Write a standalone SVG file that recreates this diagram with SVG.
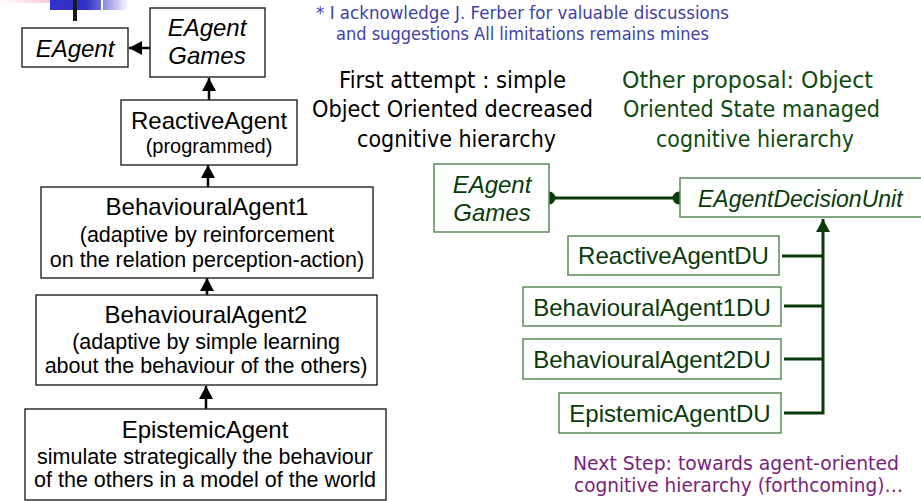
<svg xmlns="http://www.w3.org/2000/svg" width="921" height="501" viewBox="0 0 921 501">
<defs>
  <linearGradient id="pink" x1="0" y1="0" x2="1" y2="0">
    <stop offset="0" stop-color="#ffffff"/>
    <stop offset="1" stop-color="#f4b8c8"/>
  </linearGradient>
  <linearGradient id="blue1" x1="0" y1="0" x2="1" y2="0">
    <stop offset="0" stop-color="#3232c8"/>
    <stop offset="0.7" stop-color="#3030c8"/>
    <stop offset="1" stop-color="#6a6ad8"/>
  </linearGradient>
  <linearGradient id="blue2" x1="0" y1="0" x2="1" y2="0">
    <stop offset="0" stop-color="#8888e0"/>
    <stop offset="1" stop-color="#ffffff"/>
  </linearGradient>
  <marker id="ah" markerUnits="userSpaceOnUse" markerWidth="16" markerHeight="16" refX="13" refY="7" orient="auto">
    <path d="M0,0 L13,7 L0,14 z" fill="#000"/>
  </marker>
  <marker id="ahg" markerUnits="userSpaceOnUse" markerWidth="16" markerHeight="16" refX="13" refY="7" orient="auto">
    <path d="M0,0 L13,7 L0,14 z" fill="#0a3a0a"/>
  </marker>
</defs>
<style>
  .box { fill: #fff; stroke: #222; stroke-width: 1.4; }
  .gbox { fill: #fff; stroke: #5a8a5a; stroke-width: 1.5; }
  .t { font-family: "Liberation Sans", Arial, sans-serif; fill: #000; text-anchor: middle; }
  .title { font-size: 24px; }
  .desc { font-size: 21.5px; }
  .it { font-style: italic; font-size: 24px; }
  .g { fill: #0a3a0a; }
  .tah { font-family: "DejaVu Sans", Verdana, sans-serif; }
  .conn { stroke: #000; stroke-width: 2.5; fill: none; }
  .gconn { stroke: #0a3a0a; stroke-width: 3; fill: none; }
</style>

<!-- decoration -->
<rect x="0" y="0" width="65" height="3" fill="url(#pink)"/>
<rect x="50" y="0" width="51" height="10" fill="url(#blue1)"/>
<rect x="103" y="0" width="26" height="10" fill="url(#blue2)"/>
<rect x="73" y="0" width="4" height="21" fill="#1a1a1a"/>

<!-- headings -->
<g id="ack" class="tah" fill="#3f3fa8" font-size="17">
  <text x="316" y="19" textLength="413" lengthAdjust="spacingAndGlyphs">* I acknowledge J. Ferber for valuable discussions</text>
  <text x="336" y="40" textLength="373" lengthAdjust="spacingAndGlyphs">and suggestions All limitations remains mines</text>
</g>
<g id="title-left" class="tah" fill="#000" font-size="23">
  <text x="339" y="88" textLength="227" lengthAdjust="spacingAndGlyphs">First attempt : simple</text>
  <text x="312" y="117" textLength="281" lengthAdjust="spacingAndGlyphs">Object Oriented decreased</text>
  <text x="357" y="147" textLength="199" lengthAdjust="spacingAndGlyphs">cognitive hierarchy</text>
</g>
<g id="title-right" class="tah" fill="#0f4a0f" font-size="23">
  <text x="622" y="88" textLength="251" lengthAdjust="spacingAndGlyphs">Other proposal: Object</text>
  <text x="623" y="117" textLength="257" lengthAdjust="spacingAndGlyphs">Oriented State managed</text>
  <text x="656" y="147" textLength="198" lengthAdjust="spacingAndGlyphs">cognitive hierarchy</text>
</g>
<g id="next-step" class="tah" fill="#7a1e7a" font-size="19.5">
  <text x="573" y="470" textLength="326" lengthAdjust="spacingAndGlyphs">Next Step: towards agent-oriented</text>
  <text x="574" y="492" textLength="329" lengthAdjust="spacingAndGlyphs">cognitive hierarchy (forthcoming)…</text>
</g>

<!-- connectors -->
<g id="connectors">
  <line class="conn" x1="150" y1="48" x2="129" y2="48" marker-end="url(#ah)"/>
  <line class="conn" x1="209" y1="100" x2="209" y2="78" marker-end="url(#ah)"/>
  <line class="conn" x1="208" y1="187" x2="208" y2="165" marker-end="url(#ah)"/>
  <line class="conn" x1="207" y1="295" x2="207" y2="278" marker-end="url(#ah)"/>
  <line class="conn" x1="206" y1="409" x2="206" y2="386" marker-end="url(#ah)"/>

  <line class="gconn" x1="549" y1="198" x2="679" y2="198"/>
  <circle cx="549" cy="198" r="6.5" fill="#0a3a0a"/>
  <circle cx="679" cy="198" r="6.5" fill="#0a3a0a"/>
  <polyline class="gconn" points="782,256 823,256"/>
  <polyline class="gconn" points="784,306 823,306"/>
  <polyline class="gconn" points="784,359 823,359"/>
  <polyline class="gconn" points="784,413 823,413 823,219" marker-end="url(#ahg)"/>
</g>

<!-- left nodes -->
<g id="eagent">
  <rect class="box" x="22" y="28" width="106" height="39"/>
  <text class="t it" x="75" y="57">EAgent</text>
</g>
<g id="eagent-games">
  <rect class="box" x="150" y="8" width="115" height="69"/>
  <text class="t it" x="207" y="36">EAgent</text>
  <text class="t it" x="207" y="64">Games</text>
</g>
<g id="reactive">
  <rect class="box" x="121" y="100" width="176" height="65"/>
  <text class="t title" x="209" y="129">ReactiveAgent</text>
  <text class="t" font-size="20" x="209" y="153">(programmed)</text>
</g>
<g id="ba1">
  <rect class="box" x="41" y="187" width="332" height="91"/>
  <text class="t title" x="207" y="215">BehaviouralAgent1</text>
  <text class="t desc" x="207" y="242">(adaptive by reinforcement</text>
  <text class="t desc" x="207" y="267">on the relation perception-action)</text>
</g>
<g id="ba2">
  <rect class="box" x="36" y="295" width="341" height="90"/>
  <text class="t title" x="206" y="323">BehaviouralAgent2</text>
  <text class="t desc" x="206" y="349">(adaptive by simple learning</text>
  <text class="t desc" x="206" y="373">about the behaviour of the others)</text>
</g>
<g id="epistemic">
  <rect class="box" x="25" y="409" width="361" height="91"/>
  <text class="t title" x="205" y="438">EpistemicAgent</text>
  <text class="t desc" x="205" y="464">simulate strategically the behaviour</text>
  <text class="t desc" x="205" y="487">of the others in a model of the world</text>
</g>

<!-- right nodes -->
<g id="g-eagent-games">
  <rect class="gbox" x="434" y="164" width="115" height="68"/>
  <text class="t it g" x="492" y="193">EAgent</text>
  <text class="t it g" x="492" y="221">Games</text>
</g>
<g id="decision-unit">
  <rect class="gbox" x="680" y="178" width="260" height="39"/>
  <text class="t g" font-style="italic" font-size="23" x="698" y="207" style="text-anchor:start">EAgentDecisionUnit</text>
</g>
<g id="reactive-du">
  <rect class="gbox" x="568" y="236" width="211" height="39"/>
  <text class="t title g" x="673.5" y="264">ReactiveAgentDU</text>
</g>
<g id="ba1-du">
  <rect class="gbox" x="523" y="287" width="258" height="39"/>
  <text class="t title g" x="652" y="316">BehaviouralAgent1DU</text>
</g>
<g id="ba2-du">
  <rect class="gbox" x="523" y="339" width="258" height="40"/>
  <text class="t title g" x="652" y="368">BehaviouralAgent2DU</text>
</g>
<g id="epistemic-du">
  <rect class="gbox" x="559" y="393" width="222" height="40"/>
  <text class="t title g" x="670" y="422">EpistemicAgentDU</text>
</g>
</svg>
